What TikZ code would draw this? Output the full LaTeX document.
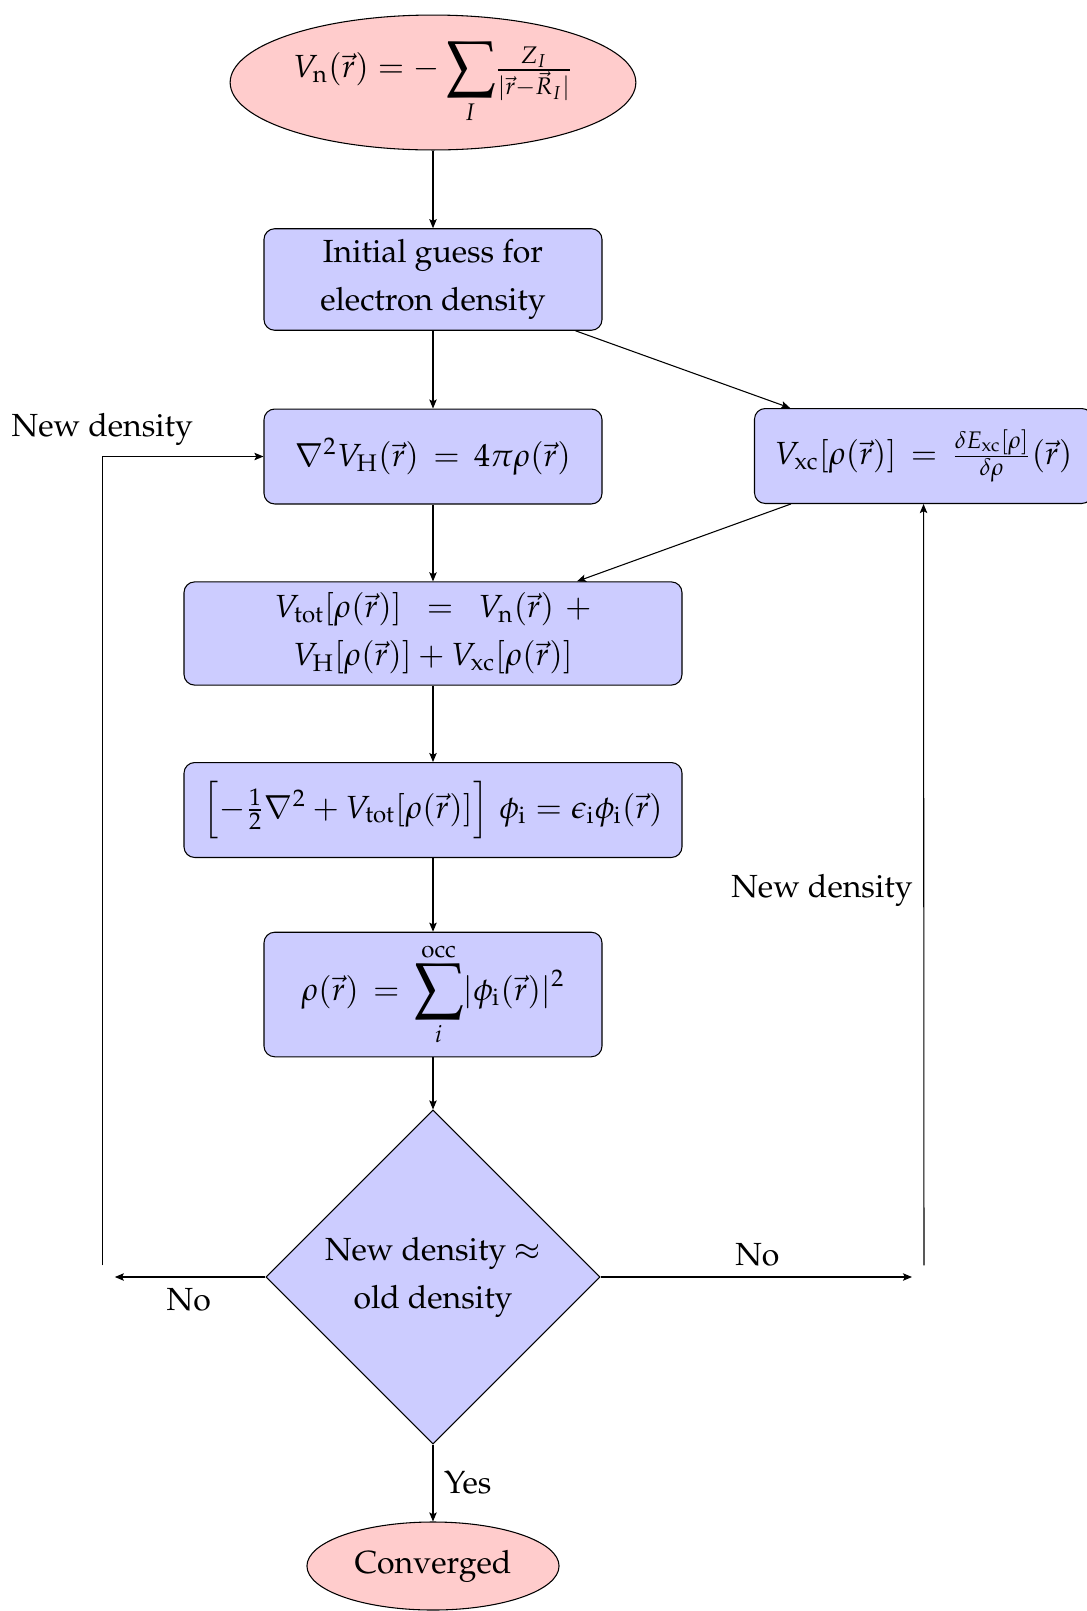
\documentclass[12pt,tikz,border=0pt]{standalone}
\usepackage[T1]{fontenc}
\usepackage{amsmath}
\usepackage{graphicx}
\usepackage{mathpazo}
\usetikzlibrary{shapes.geometric,arrows.meta}
\newcommand{\bigsumop}{\mathop{\vcenter{\hbox{\scalebox{1.4}{$\displaystyle\sum$}}}}\limits}
\tikzset{
  base/.style={draw, align=center},
  box/.style={base, rectangle, rounded corners=4pt, fill=blue!20, minimum height=35.6pt, inner sep=4pt},
  oval/.style={base, ellipse, fill=red!20, inner sep=4pt},
  decision/.style={base, diamond, fill=blue!20, aspect=1, inner sep=1pt, minimum width=125.25pt, minimum height=125.25pt},
  conn/.style={-{Stealth[length=3.4pt,width=2.8pt,inset=0.7pt]}}
}
\begin{document}
\begin{tikzpicture}[x=0.375pt,y=-0.375pt, font=\fontsize{12}{18}\selectfont]
\useasboundingbox (0,0) rectangle (1086,1611);
\node[oval, inner xsep=1.3pt, inner ysep=2.3pt, minimum width=152pt, minimum height=50.6pt] (vn) at (433,82.5)
  {$\displaystyle V_{\mathrm{n}}(\vec{r}) = -\bigsumop_I\!\tfrac{Z_I}{|\vec{r}-\vec{R}_I|}$};
\node[box, minimum width=126.75pt] (init) at (433,279.5) {Initial guess for\\electron density};
\node[box, minimum width=126.75pt] (hartree) at (433,456.5)
  {$\nabla^2 V_{\mathrm{H}}(\vec{r}) \,=\, 4\pi\rho(\vec{r})$};
\node[box, minimum width=126.75pt] (xc) at (923.5,456)
  {$V_{\mathrm{xc}}[\rho(\vec{r})] \,=\, \frac{\delta E_{\mathrm{xc}}[\rho]}{\delta\rho}(\vec{r})$};
\node[box, minimum width=186.75pt] (tot) at (433,633.5)
  {$V_{\mathrm{tot}}[\rho(\vec{r})]\mskip9mu=\mskip9mu V_{\mathrm{n}}(\vec{r})\mskip6mu+$\\
   $V_{\mathrm{H}}[\rho(\vec{r})] + V_{\mathrm{xc}}[\rho(\vec{r})]$};
\node[box, minimum width=186.75pt] (ks) at (433,810)
  {$\left[-\frac{1}{2}\nabla^2 + V_{\mathrm{tot}}[\rho(\vec{r})]\vphantom{\rule[-7.5pt]{0pt}{20pt}}\right]\mskip3mu\phi_{\mathrm{i}} = \epsilon_{\mathrm{i}}\phi_{\mathrm{i}}(\vec{r})$};
\node[box, minimum width=126.75pt] (dens) at (433,994.5)
  {$\displaystyle\rho(\vec{r}) \,=\, \bigsumop_{i}^{\mathrm{occ}}\!|\phi_{\mathrm{i}}(\vec{r})|^2$};
\node[decision] (dec) at (433,1277) {New density $\approx$\\old density};
\node[oval, minimum width=94pt, minimum height=33pt] (conv) at (433,1566) {Converged};
\coordinate (c1) at (102.3,1277);
\coordinate (c2) at (924,1277);
\draw[conn] (vn) -- (init);
\draw[conn] (init) -- (hartree);
\draw[conn] (init) -- (xc);
\draw[conn] (hartree) -- (tot);
\draw[conn] (xc) -- (tot);
\draw[conn] (tot) -- (ks);
\draw[conn] (ks) -- (dens);
\draw[conn] (dens) -- (dec);
\draw[conn] (dec) -- node[right] (yes) {Yes} (conv);
\draw[conn, shorten >=4.7pt] (dec) -- node[below, pos=0.47] (no1) {No} (c1);
\draw[conn, shorten <=4.4pt] (c1) |- node[above] (nd1) {New density} (hartree);
\draw[conn, shorten >=4.5pt] (dec) -- node[above, pos=0.485] (no2) {No} (c2);
\draw[conn, shorten <=4.4pt] (c2) -- node[left] (nd2) {New density} (xc);
\end{tikzpicture}
\end{document}
